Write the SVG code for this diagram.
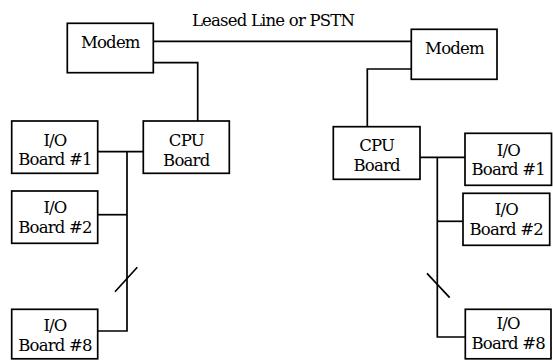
<svg xmlns="http://www.w3.org/2000/svg" width="553" height="360" viewBox="0 0 553 360">
<style>
rect{fill:#fff;stroke:#000;stroke-width:1.7}
.c{fill:none;stroke:#000;stroke-width:1.7}
text{font-family:"DejaVu Serif","Liberation Serif",serif;font-size:16.5px;letter-spacing:-0.8px;fill:#000;text-anchor:middle}
</style>
<rect x="0" y="0" width="553" height="360" style="stroke:none"/>
<g id="connectors">
<path class="c" d="M153 41.3H411.3"/>
<path class="c" d="M153 62.7H197.7V121"/>
<path class="c" d="M97.7 151.7H143.3"/>
<path class="c" d="M127 151.7V331H97.7"/>
<path class="c" d="M127 214.7H97.7"/>
<path class="c" d="M115 291.7L137.3 267.3"/>
<path class="c" d="M411.3 69H367.3V126.7"/>
<path class="c" d="M420 157.3H465"/>
<path class="c" d="M437.3 157.3V337H465"/>
<path class="c" d="M437.3 221.3H463"/>
<path class="c" d="M427 273.3L449.7 297.7"/>
</g>
<text x="273" y="26">Leased Line or PSTN</text>
<g id="modem-left"><rect x="67.3" y="23.3" width="86" height="49.4"/><text x="110.3" y="48.3">Modem</text></g>
<g id="modem-right"><rect x="411.3" y="29.3" width="85.7" height="50"/><text x="454.5" y="54.3">Modem</text></g>
<g id="io1-left"><rect x="11.7" y="121" width="86" height="52.3"/><text x="55" y="145.5">I/O</text><text x="55" y="165">Board #1</text></g>
<g id="cpu-left"><rect x="143.3" y="121" width="86" height="52.3"/><text x="186.3" y="145.5">CPU</text><text x="186.3" y="165.5">Board</text></g>
<g id="io2-left"><rect x="11.7" y="191" width="86" height="52.3"/><text x="55" y="212.5">I/O</text><text x="55" y="233">Board #2</text></g>
<g id="io8-left"><rect x="11.7" y="309.3" width="86" height="49.5"/><text x="55" y="331">I/O</text><text x="55" y="350.5">Board #8</text></g>
<g id="cpu-right"><rect x="333.3" y="126.7" width="86.7" height="52.6"/><text x="376.7" y="151">CPU</text><text x="376.7" y="170.5">Board</text></g>
<g id="io1-right"><rect x="465" y="133.3" width="86.5" height="52"/><text x="508.3" y="155.5">I/O</text><text x="508.3" y="175">Board #1</text></g>
<g id="io2-right"><rect x="463" y="193.3" width="86.7" height="52"/><text x="506.3" y="214.5">I/O</text><text x="506.3" y="235">Board #2</text></g>
<g id="io8-right"><rect x="465.3" y="309.3" width="85.7" height="49.5"/><text x="508.2" y="329">I/O</text><text x="508.2" y="348.5">Board #8</text></g>
</svg>
